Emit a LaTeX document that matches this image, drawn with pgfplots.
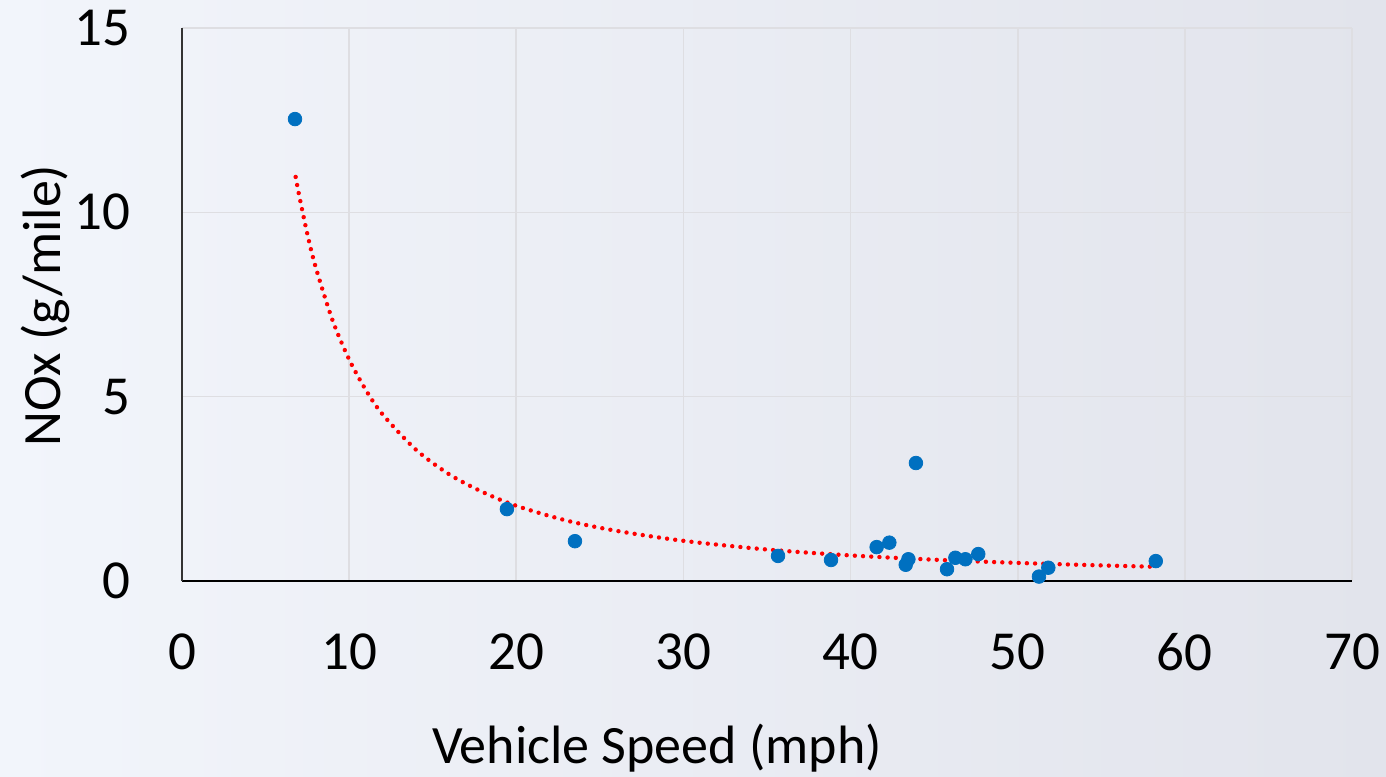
\documentclass[border=0pt]{standalone}
\usepackage{pgfplots}
\pgfplotsset{compat=1.18}
\usepackage{fontspec}
\setmainfont{Carlito}
\definecolor{ptblue}{RGB}{0,112,192}
\definecolor{bgl}{RGB}{242,245,251}
\definecolor{bgr}{RGB}{226,228,236}
\definecolor{gridc}{RGB}{222,222,226}
\begin{document}
\begin{tikzpicture}
\path[use as bounding box, left color=bgl, right color=bgr] (-91pt,-97.5pt) rectangle (602pt,290.5pt);
\begin{axis}[
  scale only axis,
  width=585pt, height=276.5pt,
  xmin=0, xmax=70, ymin=0, ymax=15,
  xtick={0,10,...,70}, ytick={0,5,10,15},
  grid=major,
  major grid style={gridc, line width=0.8pt},
  axis line style={draw=none},
  tick style={draw=none},
  /pgf/number format/assume math mode=true,
  ticklabel style={font=\fontsize{27.5}{32}\selectfont, inner sep=0pt},
  xticklabel style={anchor=north, yshift=-26pt},
  yticklabel style={anchor=east, xshift=-25.5pt},
  xlabel={Vehicle Speed (mph)},
  ylabel={NOx (g/mile)},
  label style={font=\fontsize{27}{32}\selectfont},
  xlabel style={at={(axis description cs:0.406,-0.302)}, anchor=center},
  ylabel style={at={(axis description cs:-0.117,0.498)}, anchor=center},
  clip=false,
]
\addplot[only marks, mark=*, mark size=3.4pt, mark options={fill=ptblue, draw=ptblue}] coordinates {
(6.76,12.53) (19.44,1.95) (23.51,1.08) (35.66,0.68) (38.83,0.57)
(43.91,3.20) (41.56,0.92) (42.32,1.04) (43.46,0.59) (43.30,0.44)
(45.77,0.32) (46.27,0.63) (46.87,0.59) (47.64,0.73) (51.27,0.12)
(51.83,0.36) (58.26,0.54)
};
\addplot[red, line width=2.2pt, line cap=round, dash pattern=on 0pt off 4.1pt, smooth] coordinates {
(6.8,10.96) (7,10.48) (7.5,9.41) (8,8.51) (9,7.08) (10,6.01) (11,5.18) (12,4.52)
(14,3.56) (16,2.89) (18,2.41) (20,2.04) (23,1.64) (26,1.36) (30,1.09)
(35,0.854) (40,0.694) (45,0.578) (50,0.491) (55,0.423) (58,0.389)
};
\draw[black, line width=1.2pt] (axis cs:0,0) -- (axis cs:70,0);
\draw[black!80, line width=0.7pt] (axis cs:0,0) -- (axis cs:0,15);
\end{axis}
\end{tikzpicture}
\end{document}
